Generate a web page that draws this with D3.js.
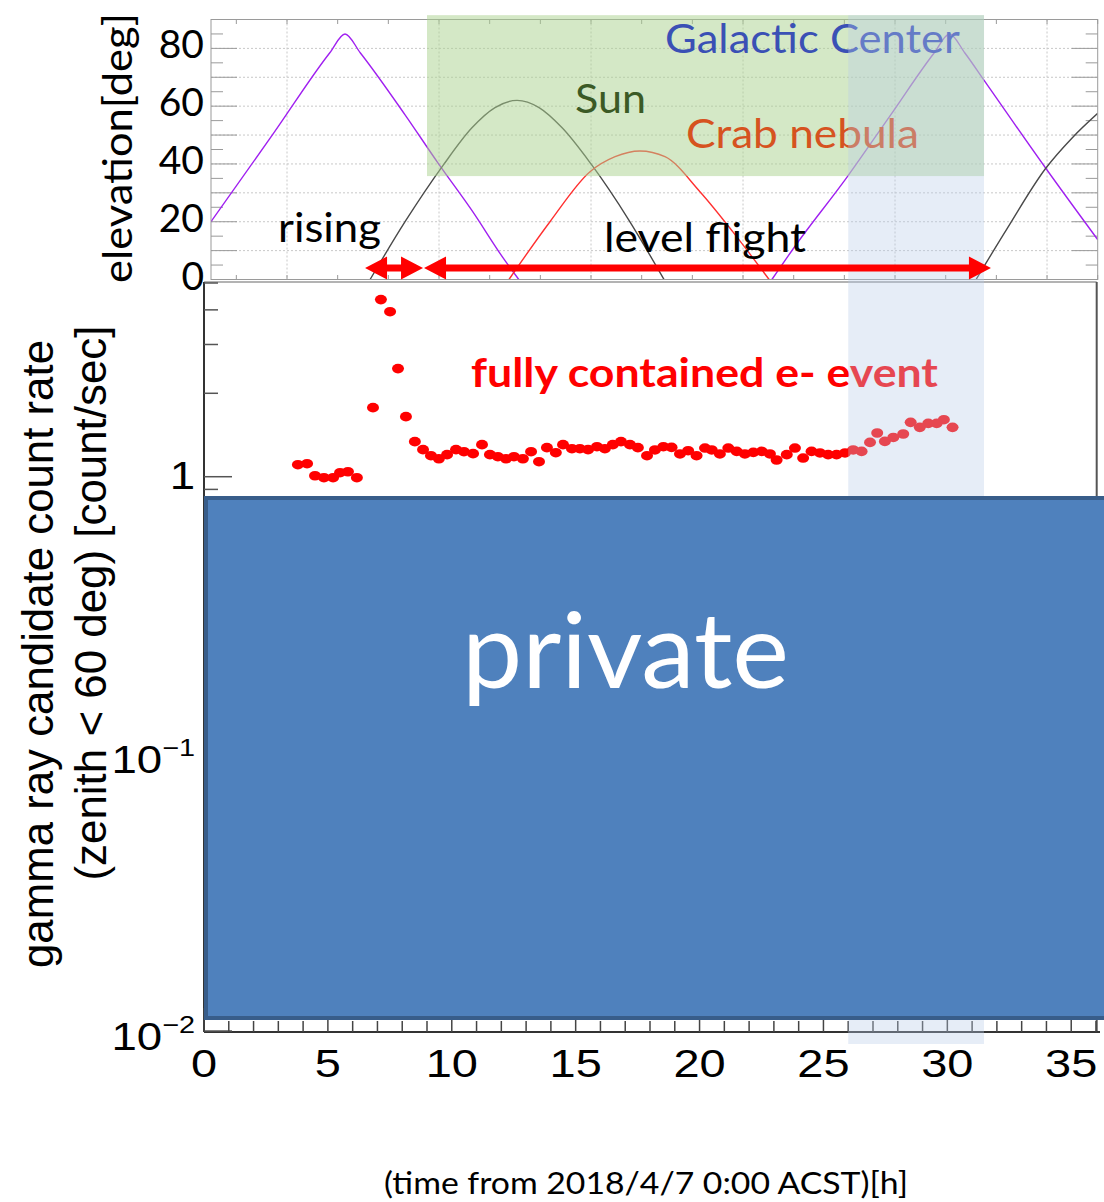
<!DOCTYPE html>
<html>
<head>
<meta charset="utf-8">
<script src="https://cdn.jsdelivr.net/npm/d3@7"></script>
<style>
 body { margin: 0; background: #fff; }
 svg { display: block; }
</style>
</head>
<body>
<script>
// ---- values ----

// lower panel: fully contained e- event rate [count/sec], hours from 2018/4/7 0:00 ACST
var rateHours = [3.79, 4.16, 4.48, 4.84, 5.21, 5.49, 5.81, 6.17,
  6.82, 7.14, 7.51, 7.83, 8.15, 8.51, 8.84, 9.16, 9.48, 9.81,
  10.17, 10.49, 10.86, 11.22, 11.54, 11.86, 12.19, 12.51, 12.87, 13.20,
  13.52, 13.84, 14.20, 14.49, 14.85, 15.17, 15.50, 15.86, 16.18, 16.50,
  16.83, 17.19, 17.51, 17.88,
  18.20, 18.54, 18.87, 19.21, 19.54, 19.88, 20.22, 20.49, 20.82, 21.16,
  21.50, 21.83, 22.17, 22.51, 22.84, 23.11, 23.52, 23.85, 24.18, 24.52,
  24.86, 25.19, 25.53, 25.87, 26.20, 26.54, 26.88, 27.17, 27.48, 27.82,
  28.22, 28.52, 28.89, 29.23, 29.57, 29.86, 30.21];
var rateValues = [1.105, 1.114, 1.008, 0.992, 0.992, 1.034, 1.042, 0.992,
  1.775, 4.355, 3.94, 2.455, 1.647, 1.338, 1.252, 1.191, 1.161, 1.201,
  1.252, 1.231, 1.211, 1.305, 1.201, 1.181, 1.161, 1.181, 1.161, 1.231,
  1.133, 1.273, 1.221, 1.305, 1.262, 1.262, 1.252, 1.283, 1.262, 1.305,
  1.338, 1.305, 1.273, 1.191,
  1.249, 1.283, 1.276, 1.208, 1.241, 1.191, 1.269, 1.249, 1.208, 1.269,
  1.234, 1.208, 1.224, 1.234, 1.208, 1.149, 1.201, 1.269, 1.168, 1.234,
  1.218, 1.201, 1.201, 1.218, 1.249, 1.234, 1.330, 1.438, 1.341, 1.386,
  1.426, 1.571, 1.507, 1.557, 1.557, 1.606, 1.507];

// upper panel: elevation [deg] (its own time axis, hours)
var gc1Hours = [0.5, 3.0, 5.19, 5.79, 6.39, 8.16, 9.47, 10.79, 12.10, 12.65];
var gc1Elev  = [20, 51, 78.5, 85, 78.5, 57, 40.2, 24, 6.6, 0];
var gc2Hours = [22.64, 23.51, 25.62, 27.33, 29.05, 29.65, 30.25, 31.01, 33.45, 35.5];
var gc2Elev  = [0, 11, 35.6, 57, 78.5, 85, 78.5, 69, 38.5, 13.8];
var sun1Hours = [6.78, 8.16, 9.66, 10.80, 11.71, 12.58, 13.45, 14.36, 15.50, 17.00, 18.38];
var sun1Elev  = [0, 20, 39.5, 52.5, 59.5, 62, 59.5, 52.5, 40, 20.5, 0];
var sun2Hours = [30.70, 31.93, 33.45, 34.49, 35.5];
var sun2Elev  = [0, 17.7, 38.5, 49, 57.5];
var crabHours = [12.26, 13.88, 15.46, 16.45, 17.43, 18.42, 19.80, 21.10, 22.53];
var crabElev  = [0, 20, 37.3, 42.5, 44.5, 42.5, 30.4, 16.5, 0];

// flight phases (hours, lower axis)
var phaseNames = ["rising", "level flight"];
var phaseStart = [6.5, 8.88];
var phaseEnd   = [8.84, 31.76];

// highlighted regions
var greenBand = {t0: 9.0, t1: 31.48, e0: 35.8, e1: 91.5};
var blueBand = {t0: 26.0, t1: 31.48};

// tick labels
var elevTicks = [0, 20, 40, 60, 80];
var xTickLabels = [0, 5, 10, 15, 20, 25, 30, 35];
var rateTickValues = [1, 0.1, 0.01];
var rateTickExp = [null, "\u22121", "\u22122"];

// ---- drawing ----
var W = 1104, H = 1202;
var svg = d3.select("body").append("svg").attr("width", W).attr("height", H);

var xTop = d3.scaleLinear().domain([0.5, 35.5]).range([211, 1097.7]);
var yTop = d3.scaleLinear().domain([0, 90]).range([279.5, 19.5]);
var xLow = d3.scaleLinear().domain([0, 36]).range([204, 1096]);
var yLow = d3.scaleLog().domain([0.01, 5]).range([1031, 283]);

var calibri = "Lato, 'Open Sans', sans-serif";
var helv = "'Liberation Sans', Arial, sans-serif";

svg.append("defs").append("clipPath").attr("id", "clipTop")
  .append("rect").attr("x", 211).attr("y", 19.5).attr("width", 886.7).attr("height", 260);

// upper panel grid
var gTop = svg.append("g");
gTop.selectAll(".hg").data(d3.range(10, 90, 10)).enter().append("line")
  .attr("x1", 211).attr("x2", 1097.7)
  .attr("y1", d => yTop(d)).attr("y2", d => yTop(d))
  .attr("stroke", "#c8c8c8").attr("stroke-dasharray", "2,2");
gTop.selectAll(".vg").data(d3.range(3.5, 35.5, 6)).enter().append("line")
  .attr("x1", d => xTop(d)).attr("x2", d => xTop(d))
  .attr("y1", 19.5).attr("y2", 279.5)
  .attr("stroke", "#c8c8c8").attr("stroke-dasharray", "2,2");

// ticks of upper panel
d3.range(0, 91, 5).forEach(function(v) {
  var len = v % 10 === 0 ? 26 : 12;
  gTop.append("line").attr("x1", 211).attr("x2", 211 + len)
    .attr("y1", yTop(v)).attr("y2", yTop(v)).attr("stroke", "#9a9a9a");
  gTop.append("line").attr("x1", 1097.7 - len).attr("x2", 1097.7)
    .attr("y1", yTop(v)).attr("y2", yTop(v)).attr("stroke", "#9a9a9a");
});
d3.range(1.5, 35.6, 2).forEach(function(h) {
  gTop.append("line").attr("x1", xTop(h)).attr("x2", xTop(h))
    .attr("y1", 19.5).attr("y2", 24).attr("stroke", "#9a9a9a");
  gTop.append("line").attr("x1", xTop(h)).attr("x2", xTop(h))
    .attr("y1", 275).attr("y2", 279.5).attr("stroke", "#9a9a9a");
});

// elevation curves
var elevLine = d3.line().curve(d3.curveMonotoneX)
  .x(d => xTop(d[0])).y(d => yTop(d[1]));
var curves = [
  [gc1Hours, gc1Elev, "#a020f0"], [gc2Hours, gc2Elev, "#a020f0"],
  [sun1Hours, sun1Elev, "#4a4a4a"], [sun2Hours, sun2Elev, "#4a4a4a"],
  [crabHours, crabElev, "#ff3030"]
];
var gCurves = gTop.append("g").attr("clip-path", "url(#clipTop)");
curves.forEach(function(c) {
  gCurves.append("path")
    .datum(d3.zip(c[0], c[1]))
    .attr("d", elevLine)
    .attr("fill", "none").attr("stroke", c[2]).attr("stroke-width", 1.4);
});

// frame of upper panel
gTop.append("rect").attr("x", 211).attr("y", 19.5).attr("width", 886.7).attr("height", 260)
  .attr("fill", "none").attr("stroke", "#9a9a9a");

// green band (translucent)
svg.append("rect")
  .attr("x", xLow(greenBand.t0)).attr("width", xLow(greenBand.t1) - xLow(greenBand.t0))
  .attr("y", yTop(greenBand.e1)).attr("height", yTop(greenBand.e0) - yTop(greenBand.e1))
  .attr("fill", "#a9d18e").attr("opacity", 0.5);

// elevation tick labels
svg.selectAll(".el").data(elevTicks).enter().append("text")
  .attr("x", 204).attr("y", d => yTop(d) + 10)
  .attr("text-anchor", "end").attr("font-family", calibri).attr("font-size", 39)
  .text(d => d);

svg.append("text")
  .attr("transform", "translate(132,148) rotate(-90)")
  .attr("text-anchor", "middle").attr("font-family", calibri).attr("font-size", 41)
  .attr("textLength", 270).attr("lengthAdjust", "spacingAndGlyphs")
  .text("elevation[deg]");

function label(txt, x, y, len, color, size, weight) {
  svg.append("text").attr("x", x).attr("y", y)
    .attr("font-family", calibri).attr("font-size", size)
    .attr("font-weight", weight || "normal").attr("fill", color)
    .attr("textLength", len).attr("lengthAdjust", "spacingAndGlyphs")
    .text(txt);
}
label("Galactic Center", 665, 53, 295, "#3a50b5", 41);
label("Sun", 575, 113, 71, "#3b5a25", 41);
label("Crab nebula", 686, 148, 233, "#d6531f", 41);
label("rising", 278, 242, 103, "#000", 41);
label("level flight", 604, 252, 202, "#000", 41);

// lower panel frame
var gLow = svg.append("g");
gLow.append("line").attr("x1", 204).attr("x2", 1096.7).attr("y1", 282).attr("y2", 282)
  .attr("stroke", "#9a9a9a").attr("stroke-width", 1.5);
gLow.append("line").attr("x1", 1096.7).attr("x2", 1096.7).attr("y1", 282).attr("y2", 1032)
  .attr("stroke", "#555").attr("stroke-width", 2);
gLow.append("line").attr("x1", 204).attr("x2", 204).attr("y1", 282).attr("y2", 1032)
  .attr("stroke", "#333").attr("stroke-width", 2);
gLow.append("line").attr("x1", 204).attr("x2", 1100).attr("y1", 1032).attr("y2", 1032)
  .attr("stroke", "#333").attr("stroke-width", 2);

// y ticks (log)
var minorRates = [0.02, 0.03, 0.04, 0.05, 0.06, 0.07, 0.08, 0.09,
  0.2, 0.3, 0.4, 0.5, 0.6, 0.7, 0.8, 0.9, 2, 3, 4, 5];
gLow.selectAll(".ymin").data(minorRates).enter().append("line")
  .attr("x1", 204).attr("x2", 218).attr("y1", d => yLow(d)).attr("y2", d => yLow(d))
  .attr("stroke", "#555").attr("stroke-width", 1.5);
gLow.selectAll(".ymaj").data(rateTickValues).enter().append("line")
  .attr("x1", 204).attr("x2", 232).attr("y1", d => yLow(d)).attr("y2", d => yLow(d))
  .attr("stroke", "#555").attr("stroke-width", 1.5);

rateTickValues.forEach(function(v, i) {
  var t = svg.append("text")
    .attr("transform", "translate(195," + (yLow(v) + (i === 0 ? 12 : 19)) + ") scale(1.2,1)")
    .attr("text-anchor", "end").attr("font-family", helv).attr("font-size", 38);
  if (rateTickExp[i] === null) {
    t.text("1");
  } else {
    t.append("tspan").text("10");
    t.append("tspan").attr("font-size", 24).attr("dy", -17).text(rateTickExp[i]);
  }
});

// x ticks
d3.range(0, 37, 1).forEach(function(h) {
  gLow.append("line").attr("x1", xLow(h)).attr("x2", xLow(h))
    .attr("y1", 1032).attr("y2", h % 5 === 0 ? 1008 : 1021)
    .attr("stroke", "#444").attr("stroke-width", 1.5);
});
svg.selectAll(".xl").data(xTickLabels).enter().append("text")
  .attr("transform", d => "translate(" + xLow(d) + ",1077) scale(1.22,1)")
  .attr("text-anchor", "middle").attr("font-family", helv).attr("font-size", 38.5)
  .text(d => d);

// data points
svg.selectAll(".pt").data(d3.zip(rateHours, rateValues)).enter().append("ellipse")
  .attr("cx", d => xLow(d[0])).attr("cy", d => yLow(d[1]))
  .attr("rx", 6).attr("ry", 4.8).attr("fill", "#ff0000");

svg.append("text").attr("x", 471).attr("y", 387)
  .attr("font-family", calibri).attr("font-size", 40).attr("font-weight", "bold")
  .attr("fill", "#ff0000").attr("textLength", 467).attr("lengthAdjust", "spacingAndGlyphs")
  .text("fully contained e- event");

// y axis title (two lines)
svg.append("text").attr("transform", "translate(53,654) rotate(-90)")
  .attr("text-anchor", "middle").attr("font-family", helv).attr("font-size", 44)
  .attr("textLength", 628).attr("lengthAdjust", "spacingAndGlyphs")
  .text("gamma ray candidate count rate");
svg.append("text").attr("transform", "translate(106,603) rotate(-90)")
  .attr("text-anchor", "middle").attr("font-family", helv).attr("font-size", 44)
  .attr("textLength", 555).attr("lengthAdjust", "spacingAndGlyphs")
  .text("(zenith < 60 deg) [count/sec]");

// x axis title
svg.append("text").attr("x", 384).attr("y", 1194)
  .attr("font-family", calibri).attr("font-size", 31)
  .attr("textLength", 524).attr("lengthAdjust", "spacingAndGlyphs")
  .text("(time from 2018/4/7 0:00 ACST)[h]");

// light blue column over both panels
svg.append("rect")
  .attr("x", xLow(blueBand.t0)).attr("width", xLow(blueBand.t1) - xLow(blueBand.t0))
  .attr("y", yTop(greenBand.e1)).attr("height", 1044 - yTop(greenBand.e1))
  .attr("fill", "#b8cce8").attr("opacity", 0.35);

// phase arrows (on top of the column)
var ay = yTop(4), head = 22, hh = 11.5, sh = 3.5;
phaseNames.forEach(function(n, i) {
  var a = xLow(phaseStart[i]), b = xLow(phaseEnd[i]);
  var p = d3.path();
  p.moveTo(a, ay);
  p.lineTo(a + head, ay - hh); p.lineTo(a + head, ay - sh);
  p.lineTo(b - head, ay - sh); p.lineTo(b - head, ay - hh);
  p.lineTo(b, ay);
  p.lineTo(b - head, ay + hh); p.lineTo(b - head, ay + sh);
  p.lineTo(a + head, ay + sh); p.lineTo(a + head, ay + hh);
  p.closePath();
  svg.append("path").attr("d", p.toString()).attr("fill", "#ff0000");
});

// private box
svg.append("rect").attr("x", 206).attr("y", 498).attr("width", 920).attr("height", 520)
  .attr("fill", "#4f81bd").attr("stroke", "#385d8a").attr("stroke-width", 4);
svg.append("text").attr("x", 462).attr("y", 688)
  .attr("font-family", calibri).attr("font-size", 105).attr("fill", "#fff")
  .attr("textLength", 327).attr("lengthAdjust", "spacingAndGlyphs")
  .text("private");
</script>
</body>
</html>
